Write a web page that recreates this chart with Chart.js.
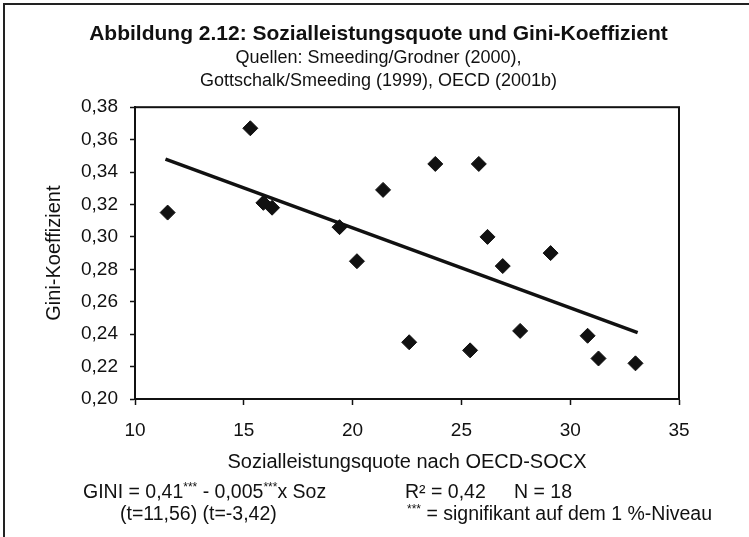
<!DOCTYPE html>
<html>
<head>
<meta charset="utf-8">
<script src="https://cdn.jsdelivr.net/npm/chart.js@4/dist/chart.umd.min.js"></script>
<style>
  body { margin: 0; background: #fff; font-family: "Liberation Sans", Arial, sans-serif; color: #111; }
  #wrap { position: relative; width: 749px; height: 537px; overflow: hidden; }
  #frame { position: absolute; left: 3px; top: 3px; width: 760px; height: 560px; border-left: 2px solid #222; border-top: 2px solid #222; }
  .foot { position: absolute; font-size: 19.5px; white-space: pre; line-height: 22px; }
  .foot sup { font-size: 12px; vertical-align: 7px; line-height: 0; }
</style>
</head>
<body>
<div id="wrap">
  <canvas id="myChart" width="749" height="537"></canvas>
  <div id="frame"></div>
  <div class="foot" style="left:83px; top:480px;">GINI = 0,41<sup>***</sup> - 0,005<sup>***</sup>x Soz</div>
  <div class="foot" style="left:405px; top:480px;">R² = 0,42</div>
  <div class="foot" style="left:514px; top:480px;">N = 18</div>
  <div class="foot" style="left:120px; top:502px;">(t=11,56) (t=-3,42)</div>
  <div class="foot" style="left:407px; top:502px;"><sup>***</sup> = signifikant auf dem 1 %-Niveau</div>
</div>
<script>
// Sozialleistungsquote (x) und Gini-Koeffizient (y), 18 Länder
var socx = [11.5, 15.3, 15.9, 16.3, 19.4, 20.2, 21.4, 22.6, 23.8, 25.4, 25.8, 26.2, 26.9, 27.7, 29.1, 30.8, 31.3, 33.0];
var gini = [0.315, 0.367, 0.321, 0.318, 0.306, 0.285, 0.329, 0.235, 0.345, 0.230, 0.345, 0.300, 0.282, 0.242, 0.290, 0.239, 0.225, 0.222];
// Regressionsgerade
var trendX = [11.4, 33.1];
var trendY = [0.348, 0.241];

var title = 'Abbildung 2.12: Sozialleistungsquote und Gini-Koeffizient';
var subtitle = ['Quellen: Smeeding/Grodner (2000),', 'Gottschalk/Smeeding (1999), OECD (2001b)'];

var fontName = '"Liberation Sans", Arial, sans-serif';
var black = '#111';

function toPoints(xs, ys) {
  var pts = [];
  for (var i = 0; i < xs.length; i++) pts.push({x: xs[i], y: ys[i]});
  return pts;
}

// Rahmen um den Plotbereich
var boxPlugin = {
  id: 'plotBox',
  afterDatasetsDraw: function(chart) {
    var a = chart.chartArea, c = chart.ctx;
    c.save();
    c.strokeStyle = black;
    c.lineWidth = 2;
    c.strokeRect(a.left, a.top, a.right - a.left, a.bottom - a.top);
    c.restore();
  }
};

window.onload = function() {
  var ctx = document.getElementById('myChart');
  var myChart = new Chart(ctx, {
    type: 'scatter',
    data: {
      datasets: [
        {
          label: 'Länder',
          data: toPoints(socx, gini),
          pointStyle: 'rectRot',
          pointRadius: 7.5,
          backgroundColor: black,
          borderColor: black,
          borderWidth: 1,
          order: 1
        },
        {
          label: 'Trend',
          data: toPoints(trendX, trendY),
          showLine: true,
          pointRadius: 0,
          borderColor: black,
          borderWidth: 3.5,
          order: 2
        }
      ]
    },
    options: {
      responsive: false,
      animation: false,
      // links 78 / rechts 70: Überschrift etwa bei x~378 zentriert wie im Original
      layout: { padding: { left: 78, right: 70, top: 0, bottom: 57 } },
      plugins: {
        legend: { display: false },
        tooltip: { enabled: false },
        title: {
          display: true,
          text: title,
          color: black,
          font: { family: fontName, size: 21, weight: 'bold', lineHeight: 1.2 },
          padding: { top: 22, bottom: 0 }
        },
        subtitle: {
          display: true,
          text: subtitle,
          color: black,
          font: { family: fontName, size: 18, lineHeight: 1.25 },
          padding: { top: 0, bottom: 15 }
        }
      },
      scales: {
        x: {
          type: 'linear',
          min: 10,
          max: 35,
          ticks: { stepSize: 5, color: black, padding: 14, font: { family: fontName, size: 19 } },
          grid: { drawOnChartArea: false, color: black, tickLength: 6, tickWidth: 1.5 },
          border: { color: black, width: 2 },
          title: { display: true, text: 'Sozialleistungsquote nach OECD-SOCX', color: black, padding: { top: 0, bottom: 6 }, font: { family: fontName, size: 20 } },
          afterFit: function(scale) { scale.height = 81; }
        },
        y: {
          type: 'linear',
          min: 0.20,
          max: 0.38,
          ticks: {
            stepSize: 0.02,
            color: black,
            padding: 12,
            font: { family: fontName, size: 19 },
            callback: function(v) { return v.toFixed(2).replace('.', ','); }
          },
          grid: { drawOnChartArea: false, color: black, tickLength: 5, tickWidth: 1.5 },
          border: { color: black, width: 2 },
          title: { display: true, text: 'Gini-Koeffizient', color: black, padding: { top: -36, bottom: 0 }, font: { family: fontName, size: 20 } },
          afterFit: function(scale) { scale.width = 57; }
        }
      }
    },
    plugins: [boxPlugin]
  });
};
</script>
</body>
</html>
